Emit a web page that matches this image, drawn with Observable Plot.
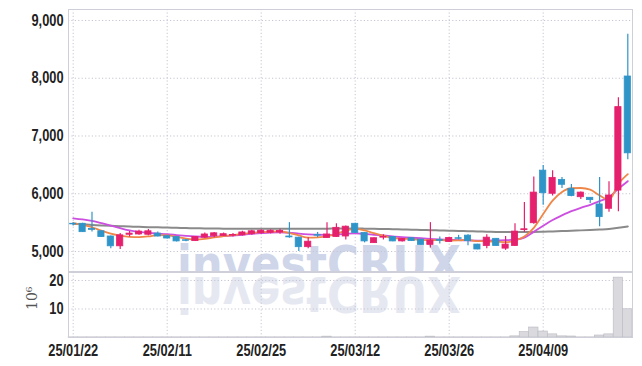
<!DOCTYPE html>
<html><head><meta charset="utf-8">
<script src="https://cdn.jsdelivr.net/npm/d3@7"></script>
<script src="https://cdn.jsdelivr.net/npm/@observablehq/plot@0.6"></script>
<style>
html,body{margin:0;padding:0;background:#fff;}
#wrap{position:relative;width:642px;height:366px;overflow:hidden;background:#fff;}
#wrap > svg{position:absolute;left:0;}
</style></head><body><div id="wrap"></div>
<script>
const dates = ["25/01/22","25/01/23","25/01/24","25/01/31","25/02/03","25/02/04","25/02/05","25/02/06","25/02/07","25/02/10",
"25/02/11","25/02/12","25/02/13","25/02/14","25/02/17","25/02/18","25/02/19","25/02/20","25/02/21","25/02/24",
"25/02/25","25/02/26","25/02/27","25/02/28","25/03/04","25/03/05","25/03/06","25/03/07","25/03/10","25/03/11",
"25/03/12","25/03/13","25/03/14","25/03/17","25/03/18","25/03/19","25/03/20","25/03/21","25/03/24","25/03/25",
"25/03/26","25/03/27","25/03/28","25/03/31","25/04/01","25/04/02","25/04/03","25/04/04","25/04/07","25/04/08",
"25/04/09","25/04/10","25/04/11","25/04/14","25/04/15","25/04/16","25/04/17","25/04/18","25/04/21","25/04/22"];
const open  = [5480,5480,5390,5350,5260,5090,5290,5295,5290,5310,5265,5250,5195,5180,5240,5265,5270,5275,5280,5305,5320,5325,5330,5260,5240,5075,5285,5235,5250,5260,5480,5320,5145,5240,5250,5175,5230,5205,5115,5200,5165,5230,5275,5120,5095,5220,5050,5095,5370,5490,6400,6000,6240,6085,5940,5930,5815,5740,6055,8030];
const close = [5470,5335,5375,5250,5090,5280,5310,5345,5350,5260,5225,5175,5185,5250,5295,5315,5300,5285,5330,5350,5360,5360,5355,5245,5075,5170,5275,5295,5410,5430,5320,5175,5230,5250,5175,5215,5180,5115,5190,5185,5235,5220,5180,5035,5240,5095,5120,5345,5385,6020,6010,6275,6155,5960,6020,5890,5595,5970,7500,6700];
const high  = [5500,5490,5680,5360,5270,5310,5345,5370,5380,5340,5275,5255,5210,5255,5320,5330,5320,5310,5350,5370,5375,5375,5385,5500,5245,5240,5330,5500,5480,5440,5490,5325,5235,5290,5255,5225,5235,5210,5500,5250,5245,5280,5290,5125,5290,5225,5260,5480,5850,6290,6490,6400,6280,6160,6030,5935,6280,6210,7660,8760];
const low   = [5440,5330,5340,5245,5050,5035,5250,5280,5275,5250,5215,5165,5170,5175,5225,5240,5260,5250,5270,5280,5300,5305,5300,5230,5000,5050,5240,5230,5245,5200,5310,5150,5140,5200,5170,5165,5175,5110,5060,5130,5160,5200,5100,5030,5050,5090,5020,5090,5330,5470,5800,5960,6090,5950,5900,5830,5430,5680,5690,6590];
const volume = [0.05,0.05,0.05,0.05,0.05,0.05,0.05,0.05,0.05,0.05,0.05,0.05,0.05,0.05,0.05,0.05,0.05,0.05,0.05,0.05,0.05,0.05,0.05,0.05,0.05,0.05,0.05,0.3,0.05,0.05,0.05,0.05,0.05,0.05,0.05,0.05,0.05,0.05,0.3,0.05,0.05,0.05,0.05,0.05,0.05,0.05,0.05,0.4,1.9,3.5,2.1,1.1,0.4,0.35,0.05,0.05,0.7,1.1,21,9.9];
const ma5  = [5490,5460,5420,5360,5310,5275,5255,5250,5262,5285,5280,5255,5225,5210,5220,5245,5265,5285,5305,5322,5335,5345,5348,5320,5278,5240,5245,5262,5305,5362,5392,5365,5318,5275,5232,5220,5215,5200,5195,5200,5190,5192,5200,5180,5178,5172,5160,5190,5260,5410,5650,5880,6030,6095,6100,6070,5970,5895,6170,6340];
const ma10 = [5575,5555,5530,5490,5450,5405,5365,5340,5322,5310,5300,5285,5270,5260,5255,5258,5265,5275,5290,5305,5318,5328,5330,5325,5310,5298,5290,5288,5292,5305,5315,5305,5290,5277,5262,5248,5238,5230,5220,5210,5202,5198,5192,5188,5190,5192,5195,5205,5240,5340,5445,5545,5625,5698,5757,5809,5871,5940,6086,6218];
const ma60 = [5480,5470,5460,5452,5445,5438,5432,5427,5422,5418,5414,5410,5406,5403,5400,5398,5396,5395,5394,5393,5393,5393,5393,5394,5394,5395,5396,5396,5397,5398,5398,5396,5393,5390,5386,5382,5378,5374,5370,5365,5360,5356,5352,5348,5344,5340,5338,5336,5336,5338,5342,5348,5354,5360,5366,5372,5380,5390,5410,5435];
const tickDates = ["25/01/22","25/02/11","25/02/25","25/03/12","25/03/26","25/04/09"];
const priceTicks = [5000,6000,7000,8000,9000];
const volTicks = [10,20];
const watermark = "investCRUX";
const volLabel = "10⁶";

const rows = dates.map((d,i)=>({date:d, open:open[i], high:high[i], low:low[i], close:close[i], volume:volume[i], ma5:ma5[i], ma10:ma10[i], ma60:ma60[i]}));
const UP = "#e5206d", DOWN = "#2f95c9";
const col = d => d.close >= d.open ? UP : DOWN;
const fontFamily = "'Liberation Sans',Arial,sans-serif";
const grid = {stroke:"#c5c5d3", strokeDasharray:"1.2,2.2", strokeWidth:1};
const frameColor = "#cfcfd9";
const baseStyle = {background:"transparent", fontFamily, fontSize:"16px", fontWeight:"bold", color:"#222", overflow:"visible"};

function condense(svg){
  svg.querySelectorAll('g[aria-label*="tick label"] text').forEach(t => {
    const w = t.getComputedTextLength();
    t.setAttribute("textLength", (w*0.8).toFixed(2));
    t.setAttribute("lengthAdjust", "spacingAndGlyphs");
  });
}

const wrap = d3.select("#wrap");

// watermark layer (behind)
const wm = wrap.append("svg").attr("width",642).attr("height",366).style("top","0px");
const defs = wm.append("defs");
defs.append("clipPath").attr("id","c1").append("rect").attr("x",68).attr("y",9).attr("width",564).attr("height",262);
defs.append("clipPath").attr("id","c2").append("rect").attr("x",68).attr("y",272).attr("width",564).attr("height",65);
wm.append("g").attr("clip-path","url(#c1)").append("text")
  .attr("x",177).attr("y",281).attr("textLength",284).attr("lengthAdjust","spacingAndGlyphs")
  .attr("font-family","DejaVu Sans").attr("font-weight","bold").attr("font-size",50).attr("fill","#cfd6ea").text(watermark);
wm.append("g").attr("clip-path","url(#c2)").append("g").attr("transform","translate(0,558) scale(1,-1)").append("text")
  .attr("x",177).attr("y",281).attr("textLength",284).attr("lengthAdjust","spacingAndGlyphs")
  .attr("font-family","DejaVu Sans").attr("font-weight","bold").attr("font-size",50).attr("fill","#e6e8f1").text(watermark);

const price = Plot.plot({
  width:642, height:272, marginLeft:68, marginRight:10, marginTop:9, marginBottom:1,
  style: baseStyle,
  x:{type:"band", domain:dates, padding:0, round:false, axis:null},
  y:{domain:[4654,9190], axis:null},
  color:{type:"identity"},
  marks:[
    Plot.ruleY(priceTicks, {y:d=>d, ...grid}),
    Plot.ruleX(tickDates, {x:d=>d, ...grid}),
    Plot.frame({stroke:frameColor}),
    Plot.axisY({ticks:priceTicks, tickFormat:d3.format(","), tickSize:0, tickPadding:5, fill:"#222", label:null}),
    Plot.line(rows, {x:"date", y:"ma60", stroke:"#8a8a8a", strokeWidth:2, curve:"monotone-x"}),
    Plot.line(rows, {x:"date", y:"ma10", stroke:"#cc4fe0", strokeWidth:1.8, curve:"monotone-x"}),
    Plot.line(rows, {x:"date", y:"ma5", stroke:"#ef8748", strokeWidth:1.8, curve:"monotone-x"}),
    Plot.ruleX(rows, {x:"date", y1:"low", y2:"high", stroke:col, strokeWidth:1.2}),
    Plot.barY(rows, {x:"date", y1:"open", y2:"close", fill:col, stroke:col, strokeWidth:0.8, insetLeft:1.6, insetRight:1.6})
  ]
});
d3.select(price).style("position","absolute").style("top","0px").style("left","0px");
wrap.node().appendChild(price);
condense(price);

const vol = Plot.plot({
  width:642, height:95, marginLeft:68, marginRight:10, marginTop:1, marginBottom:29,
  style: baseStyle,
  x:{type:"band", domain:dates, padding:0, round:false, axis:null},
  y:{domain:[0,22.8], axis:null},
  marks:[
    Plot.ruleY(volTicks, {y:d=>d, ...grid}),
    Plot.ruleX(tickDates, {x:d=>d, ...grid}),
    Plot.barY(rows, {x:"date", y:"volume", fill:"#d9d9de", stroke:"#b9b9c2", strokeWidth:0.6}),
    Plot.frame({stroke:frameColor}),
    Plot.axisY({ticks:volTicks, tickSize:0, tickPadding:5, fill:"#222", label:null}),
    Plot.axisX({ticks:tickDates, tickSize:0, tickPadding:7, fill:"#222", label:null}),
    Plot.text([volLabel], {text:d=>d, frameAnchor:"left", dx:-36, dy:5, rotate:-90, fontFamily:"'DejaVu Serif',serif", fontWeight:"normal", fontSize:14, fill:"#555"})
  ]
});
d3.select(vol).style("position","absolute").style("top","271px").style("left","0px");
wrap.node().appendChild(vol);
condense(vol);
</script></body></html>
